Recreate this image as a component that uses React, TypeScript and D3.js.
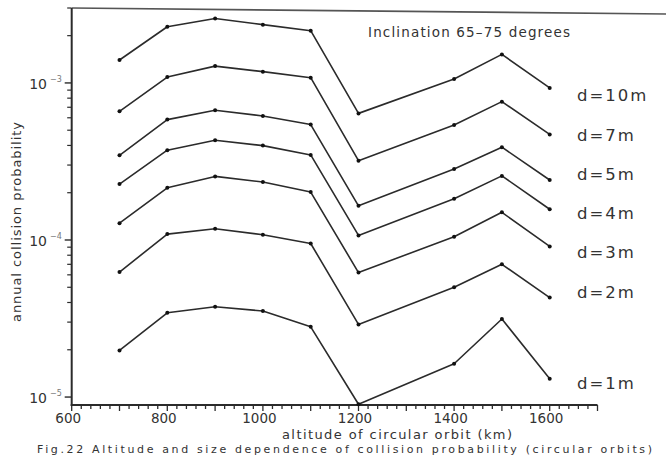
import React from "react";
import * as d3 from "d3";

const altitudes = [700, 800, 900, 1000, 1100, 1200, 1400, 1500, 1600];
const sizeLabels = ["d=10m", "d=7m", "d=5m", "d=4m", "d=3m", "d=2m", "d=1m"];
const d10m = [1.4e-3, 2.28e-3, 2.57e-3, 2.35e-3, 2.15e-3, 6.4e-4, 1.06e-3, 1.52e-3, 9.3e-4];
const d7m = [6.6e-4, 1.09e-3, 1.28e-3, 1.18e-3, 1.08e-3, 3.2e-4, 5.4e-4, 7.6e-4, 4.7e-4];
const d5m = [3.46e-4, 5.84e-4, 6.7e-4, 6.16e-4, 5.43e-4, 1.65e-4, 2.83e-4, 3.9e-4, 2.41e-4];
const d4m = [2.27e-4, 3.73e-4, 4.32e-4, 3.99e-4, 3.48e-4, 1.07e-4, 1.83e-4, 2.56e-4, 1.57e-4];
const d3m = [1.28e-4, 2.15e-4, 2.54e-4, 2.34e-4, 2.02e-4, 6.2e-5, 1.05e-4, 1.5e-4, 9.1e-5];
const d2m = [6.25e-5, 1.09e-4, 1.18e-4, 1.08e-4, 9.5e-5, 2.9e-5, 5.0e-5, 7.0e-5, 4.3e-5];
const d1m = [1.98e-5, 3.44e-5, 3.76e-5, 3.53e-5, 2.8e-5, 9.0e-6, 1.63e-5, 3.14e-5, 1.31e-5];
const seriesValues = [d10m, d7m, d5m, d4m, d3m, d2m, d1m];
const xTickLabels = [600, 800, 1000, 1200, 1400, 1600];
const yDecades = [-5, -4, -3];
const titleText = "Inclination 65\u201375 degrees";
const xTitle = "altitude of circular orbit (km)";
const yTitle = "annual collision probability";
const captionText = "Fig.22 Altitude and size dependence of collision probability (circular orbits)";

// label vertical offsets relative to line end (layout only)
const labelDy = [13, 7, 0, 10, 12, 0, 10];

const FONT = "'DejaVu Sans', 'Liberation Sans', sans-serif";
const INK = "#2b2b2b";

export default function App() {
  const x = d3.scaleLinear().domain([600, 1700]).range([71.7, 597.5]);
  const y = d3.scaleLog().domain([8.9e-6, 3e-3]).range([405, 8]);

  const line = d3
    .line<number>()
    .x((_, i) => x(altitudes[i]))
    .y((v) => y(v));

  const xTicks = d3.range(600, 1701, 20);
  const yMinor: number[] = [];
  yDecades.forEach((e) => {
    for (let m = 2; m <= 9; m++) {
      const v = m * Math.pow(10, e);
      if (v >= 8.9e-6 && v <= 3.01e-3) yMinor.push(v);
    }
  });

  return (
    <>
      <style>{"body{margin:0}"}</style>
      <svg width={666} height={456} style={{ display: "block", background: "#fff" }}>
        {/* top frame line (slightly slanted as in scan) */}
        <line x1={72} y1={8} x2={666} y2={14} stroke="#555" strokeWidth={1.6} />
        {/* y axis */}
        <line x1={x(600)} y1={8} x2={x(600)} y2={406} stroke={INK} strokeWidth={2} />
        {/* x axis */}
        <line x1={x(600) - 1} y1={405} x2={x(1700)} y2={405} stroke={INK} strokeWidth={2} />
        {xTicks.map((t) => (
          <line
            key={"xt" + t}
            x1={x(t)}
            x2={x(t)}
            y1={405}
            y2={405 + (t % 100 === 0 ? 6 : 4)}
            stroke={INK}
            strokeWidth={1.3}
          />
        ))}
        {xTickLabels.map((t) => (
          <text
            key={"xl" + t}
            x={x(t) - 3.5}
            y={422.5}
            textAnchor="middle"
            fontFamily={FONT}
            fontSize={13.5}
            fill="#333"
          >
            {t}
          </text>
        ))}
        {yDecades.map((e) => (
          <line
            key={"yd" + e}
            x1={x(600) - 7}
            x2={x(600)}
            y1={y(Math.pow(10, e))}
            y2={y(Math.pow(10, e))}
            stroke={INK}
            strokeWidth={1.4}
          />
        ))}
        {yMinor.map((v, i) => (
          <line
            key={"ym" + i}
            x1={x(600) - 4.5}
            x2={x(600)}
            y1={y(v)}
            y2={y(v)}
            stroke={INK}
            strokeWidth={1.2}
          />
        ))}
        {yDecades.map((e) => (
          <g key={"yl" + e}>
            <text
              x={47}
              y={y(Math.pow(10, e)) + 6}
              textAnchor="end"
              fontFamily={FONT}
              fontSize={14}
              fill="#333"
            >
              10
            </text>
            <text
              x={50}
              y={y(Math.pow(10, e)) - 1}
              fontFamily={FONT}
              fontSize={8}
              fill="#777"
            >
              {"\u2212" + Math.abs(e)}
            </text>
          </g>
        ))}
        {/* series */}
        {seriesValues.map((vals, si) => (
          <g key={"s" + si}>
            <path d={line(vals) || ""} fill="none" stroke={INK} strokeWidth={1.6} strokeLinejoin="round" />
            {vals.map((v, i) => (
              <circle key={i} cx={x(altitudes[i])} cy={y(v)} r={2} fill="#111" />
            ))}
            <text
              x={577}
              y={y(vals[vals.length - 1]) + labelDy[si]}
              fontFamily={FONT}
              fontSize={16.5}
              letterSpacing={2}
              fill="#333"
            >
              {sizeLabels[si]}
            </text>
          </g>
        ))}
        <text x={368} y={37} fontFamily={FONT} fontSize={13.5} fill="#333" textLength={202} lengthAdjust="spacing">
          {titleText}
        </text>
        <text x={282} y={439} fontFamily={FONT} fontSize={13} fill="#333" textLength={230} lengthAdjust="spacing">
          {xTitle}
        </text>
        <text
          transform="translate(21,222) rotate(-90)"
          textAnchor="middle"
          fontFamily={FONT}
          fontSize={13}
          fill="#333"
          textLength={200}
          lengthAdjust="spacing"
        >
          {yTitle}
        </text>
        <text x={37} y={453.2} fontFamily={FONT} fontSize={11} fill="#333" textLength={615} lengthAdjust="spacing">
          {captionText}
        </text>
      </svg>
    </>
  );
}
